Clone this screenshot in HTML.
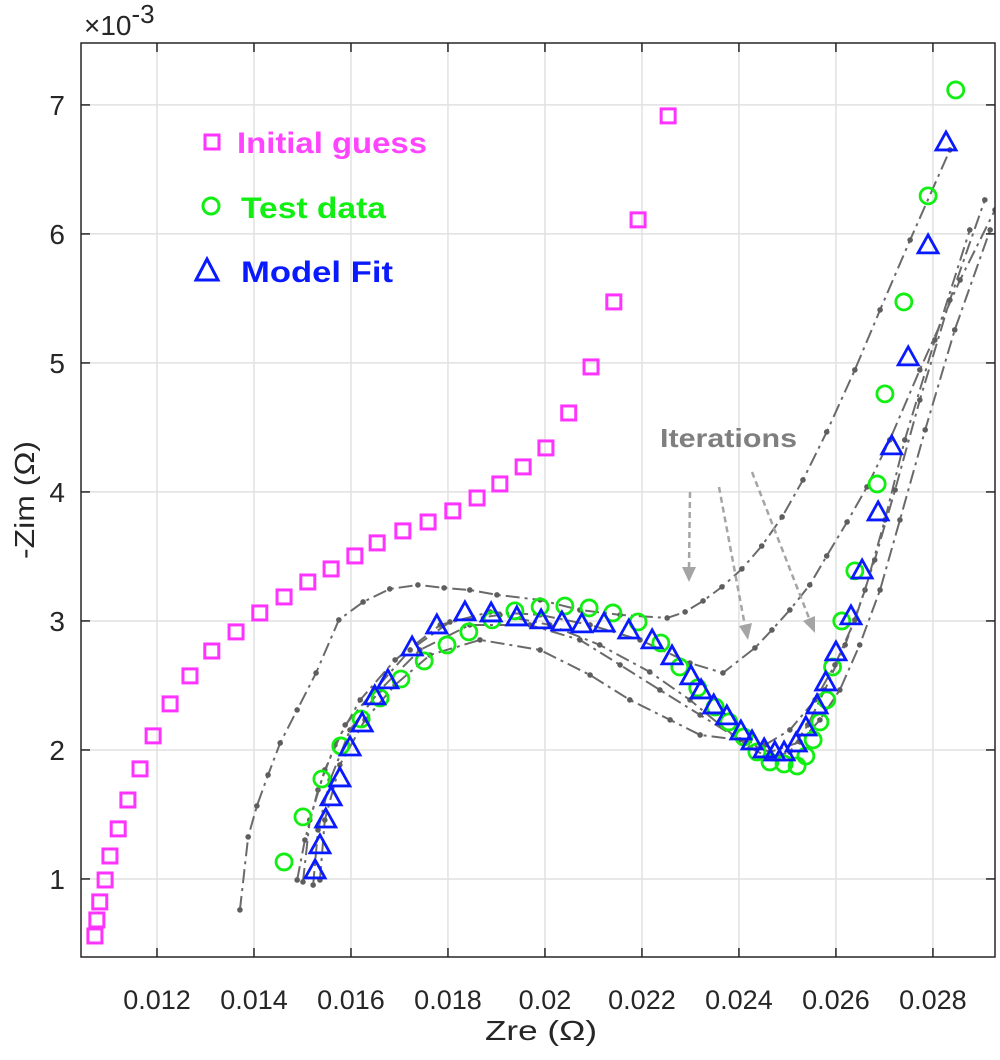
<!DOCTYPE html>
<html><head><meta charset="utf-8"><style>
html,body{margin:0;padding:0;background:#fff;}
svg{display:block;font-family:"Liberation Sans",sans-serif;}
</style></head><body>
<svg id="chart" width="1000" height="1060" viewBox="0 0 1000 1060">
<g id="grid"></g>
<g id="iters"></g>
<g id="series"></g>
<g id="axes"></g>
<g>
  <text x="660" y="447" font-size="26" font-weight="bold" fill="#7f7f7f" textLength="137" lengthAdjust="spacingAndGlyphs">Iterations</text>
  <g stroke="#a5a5a5" stroke-width="2.5" stroke-dasharray="6 4" fill="none">
    <line x1="690" y1="492" x2="689" y2="568"/>
    <line x1="719" y1="487" x2="745" y2="626"/>
    <line x1="752" y1="472" x2="809" y2="618"/>
  </g>
  <g fill="#a5a5a5">
    <polygon points="682,567 696,567 689,582"/>
    <polygon points="739,626 752,623 748,640"/>
    <polygon points="803,621 815,616 815,633"/>
  </g>
</g>
<g>
  <g>
    <rect x="205" y="135" width="14" height="14" fill="none" stroke="#ff33ff" stroke-width="3"/>
    <text x="237" y="153" font-size="30" font-weight="bold" fill="#ff44ff" textLength="190" lengthAdjust="spacingAndGlyphs">Initial guess</text>
  </g>
  <g>
    <circle cx="211" cy="206" r="8" fill="none" stroke="#11ee11" stroke-width="3"/>
    <text x="241" y="218" font-size="30" font-weight="bold" fill="#11ee11" textLength="145" lengthAdjust="spacingAndGlyphs">Test data</text>
  </g>
  <g>
    <polygon points="207,259 196,280 218,280" fill="none" stroke="#0a1aff" stroke-width="3"/>
    <text x="241" y="282" font-size="30" font-weight="bold" fill="#0a1aff" textLength="152" lengthAdjust="spacingAndGlyphs">Model Fit</text>
  </g>
</g>
</svg>
<script>
const xTicks=[0.012,0.014,0.016,0.018,0.02,0.022,0.024,0.026,0.028];
const xTickLabels=["0.012","0.014","0.016","0.018","0.02","0.022","0.024","0.026","0.028"];
const yTicks=[1,2,3,4,5,6,7];
const yTickLabels=["1","2","3","4","5","6","7"];
const guessX=[0.01072,0.01076,0.01082,0.01093,0.01103,0.01120,0.01140,0.01165,0.01192,0.01227,0.01268,0.01313,0.01363,0.01412,0.01462,0.01511,0.01559,0.01608,0.01654,0.01707,0.01759,0.01810,0.01860,0.01907,0.01955,0.02002,0.02049,0.02095,0.02142,0.02192,0.02254];
const guessY=[0.558,0.682,0.822,0.992,1.178,1.388,1.612,1.853,2.109,2.357,2.574,2.767,2.915,3.062,3.186,3.302,3.403,3.504,3.605,3.698,3.767,3.853,3.953,4.062,4.194,4.341,4.612,4.969,5.473,6.109,6.915];
const testX=[0.01462,0.01501,0.01540,0.01579,0.01621,0.01660,0.01703,0.01751,0.01798,0.01843,0.01891,0.01938,0.01990,0.02041,0.02091,0.02140,0.02192,0.02239,0.02278,0.02315,0.02351,0.02379,0.02410,0.02437,0.02464,0.02493,0.02520,0.02538,0.02553,0.02567,0.02581,0.02593,0.02612,0.02639,0.02685,0.02701,0.02740,0.02790,0.02847];
const testY=[1.132,1.481,1.775,2.031,2.240,2.403,2.550,2.690,2.814,2.915,3.008,3.078,3.109,3.116,3.101,3.062,2.992,2.829,2.643,2.481,2.333,2.217,2.101,1.984,1.907,1.891,1.876,1.953,2.078,2.217,2.388,2.643,3.000,3.388,4.062,4.760,5.473,6.295,7.116];
const fitX=[0.01526,0.01536,0.01548,0.01559,0.01577,0.01598,0.01623,0.01649,0.01676,0.01726,0.01777,0.01835,0.01889,0.01942,0.01992,0.02035,0.02076,0.02122,0.02173,0.02221,0.02262,0.02301,0.02322,0.02348,0.02375,0.02404,0.02427,0.02452,0.02474,0.02493,0.02518,0.02538,0.02561,0.02579,0.02600,0.02631,0.02654,0.02687,0.02715,0.02749,0.02790,0.02827];
const fitY=[1.070,1.264,1.465,1.636,1.783,2.023,2.209,2.419,2.543,2.798,2.969,3.070,3.062,3.031,3.008,2.992,2.977,2.984,2.930,2.853,2.729,2.574,2.465,2.349,2.264,2.147,2.070,2.008,1.984,1.984,2.054,2.178,2.349,2.527,2.760,3.039,3.395,3.845,4.357,5.047,5.915,6.713];
const iterAX=[0.01371,0.01388,0.01406,0.01429,0.01454,0.01489,0.01528,0.01575,0.01625,0.01680,0.01738,0.01792,0.01845,0.01901,0.01990,0.02072,0.02155,0.02252,0.02289,0.02326,0.02365,0.02406,0.02447,0.02489,0.02532,0.02581,0.02639,0.02691,0.02753,0.02835];
const iterAY=[0.760,1.326,1.566,1.806,2.054,2.310,2.597,3.008,3.147,3.248,3.279,3.256,3.240,3.202,3.163,3.085,3.047,3.023,3.070,3.155,3.264,3.403,3.581,3.806,4.093,4.465,4.946,5.411,5.953,6.651];
const iterBX=[0.01489,0.01505,0.01532,0.01567,0.01619,0.01691,0.01784,0.01887,0.01990,0.02093,0.02196,0.02299,0.02367,0.02433,0.02468,0.02505,0.02546,0.02581,0.02623,0.02664,0.02711,0.02773,0.02856,0.02928];
const iterBY=[0.992,1.302,1.690,2.039,2.388,2.698,2.969,3.070,3.047,2.969,2.853,2.674,2.597,2.791,2.930,3.085,3.279,3.504,3.767,4.039,4.403,4.946,5.643,6.186];
const iterCX=[0.01501,0.01515,0.01546,0.01588,0.01649,0.01722,0.01804,0.01907,0.02010,0.02113,0.02216,0.02299,0.02361,0.02423,0.02464,0.02505,0.02542,0.02577,0.02619,0.02660,0.02701,0.02742,0.02804,0.02876];
const iterCY=[0.977,1.457,1.845,2.194,2.465,2.775,2.992,3.047,2.969,2.814,2.605,2.388,2.194,2.016,1.938,1.984,2.194,2.465,2.814,3.240,3.783,4.403,5.178,6.031];
const iterDX=[0.01522,0.01532,0.01557,0.01598,0.01660,0.01742,0.01845,0.01969,0.02072,0.02155,0.02237,0.02320,0.02402,0.02464,0.02526,0.02567,0.02608,0.02649,0.02691,0.02732,0.02784,0.02845,0.02918];
const iterDY=[0.953,1.380,1.767,2.155,2.465,2.775,2.969,2.969,2.853,2.659,2.465,2.271,2.078,1.984,2.062,2.233,2.465,2.814,3.240,3.783,4.481,5.256,6.031];
const iterEX=[0.01536,0.01546,0.01577,0.01629,0.01691,0.01763,0.01866,0.01990,0.02093,0.02175,0.02258,0.02320,0.02402,0.02454,0.02505,0.02557,0.02598,0.02639,0.02680,0.02722,0.02773,0.02835,0.02907];
const iterEY=[0.992,1.457,1.884,2.233,2.504,2.736,2.853,2.775,2.581,2.388,2.233,2.116,2.078,2.039,2.155,2.388,2.659,3.008,3.473,4.016,4.713,5.488,6.264];

const L=81,R=995,T=43,B=957;
const X0=0.010433,X1=0.029280,Y0=0.395,Y1=7.48;
function sx(v){return L+(v-X0)/(X1-X0)*(R-L);}
function sy(v){return B-(v-Y0)/(Y1-Y0)*(B-T);}
const NS="http://www.w3.org/2000/svg";
function mk(tag,attrs,parent){const e=document.createElementNS(NS,tag);for(const k in attrs)e.setAttribute(k,attrs[k]);parent.appendChild(e);return e;}
const grid=document.getElementById('grid'),axes=document.getElementById('axes'),series=document.getElementById('series'),iters=document.getElementById('iters');

xTicks.forEach((v,i)=>{
  const x=sx(v);
  const g=mk('line',{x1:x,x2:x,y1:T,y2:B,stroke:'#e1e1e1','stroke-width':1.5},grid);
  
  
  const t1=mk('line',{x1:x,x2:x,y1:B,y2:B-9,stroke:'#262626','stroke-width':1.5},axes);
  
  
  const t2=mk('line',{x1:x,x2:x,y1:T,y2:T+9,stroke:'#262626','stroke-width':1.5},axes);
  
  
  const lb=mk('text',{x:x,y:B+52,'text-anchor':'middle','font-size':27,fill:'#262626'},axes);
  lb.textContent=xTickLabels[i];
  
  
});
yTicks.forEach((v,i)=>{
  const y=sy(v);
  const g=mk('line',{x1:L,x2:R,y1:y,y2:y,stroke:'#e1e1e1','stroke-width':1.5},grid);
  
  
  const t1=mk('line',{x1:L,x2:L+9,y1:y,y2:y,stroke:'#262626','stroke-width':1.5},axes);
  
  
  const t2=mk('line',{x1:R,x2:R-9,y1:y,y2:y,stroke:'#262626','stroke-width':1.5},axes);
  
  
  const lb=mk('text',{x:L-16,y:y+10,'text-anchor':'end','font-size':28,fill:'#262626'},axes);
  lb.textContent=yTickLabels[i];
  
  
});
const box=mk('rect',{x:L,y:T,width:R-L,height:B-T,fill:'none',stroke:'#262626','stroke-width':1.5},axes);


const ex=mk('text',{x:84,y:35,'font-size':28,fill:'#262626'},axes);
ex.innerHTML='×10<tspan dy="-12" font-size="26">-3</tspan>';


const xl=mk('text',{x:541,y:1040,'text-anchor':'middle','font-size':28,fill:'#262626',textLength:112,lengthAdjust:'spacingAndGlyphs'},axes);
xl.textContent='Zre (Ω)';


const yl=mk('text',{x:0,y:0,'text-anchor':'middle','font-size':28,fill:'#262626',transform:'translate(34,500) rotate(-90)',textLength:118,lengthAdjust:'spacingAndGlyphs'},axes);
yl.textContent='-Zim (Ω)';



const defs=mk('defs',{},document.getElementById('chart'));
const cp=mk('clipPath',{id:'clip'},defs);
mk('rect',{x:L,y:T,width:R-L,height:B-T},cp);
iters.setAttribute('clip-path','url(#clip)');

[[iterAX,iterAY],[iterBX,iterBY],[iterCX,iterCY],[iterDX,iterDY],[iterEX,iterEY]].forEach((c,k)=>{
  const pts=c[0].map((v,i)=>sx(v)+','+sy(c[1][i])).join(' ');
  const pl=mk('polyline',{points:pts,fill:'none',stroke:'#6a6a6a','stroke-width':2,'stroke-dasharray':'14 5 3 5'},iters);
  
  
  c[0].forEach((v,i)=>{
    const d=mk('circle',{cx:sx(v),cy:sy(c[1][i]),r:2.8,fill:'#5e5e5e'},iters);
    
    
  });
});

guessX.forEach((v,i)=>{
  const x=sx(v),y=sy(guessY[i]);
  const r=mk('rect',{x:x-7,y:y-7,width:14,height:14,fill:'none',stroke:'#ff33ff','stroke-width':3},series);
  
  
});
testX.forEach((v,i)=>{
  const c=mk('circle',{cx:sx(v),cy:sy(testY[i]),r:8,fill:'none',stroke:'#11ee11','stroke-width':2.8},series);
  
  
});
fitX.forEach((v,i)=>{
  const x=sx(v),y=sy(fitY[i]);
  const p=mk('polygon',{points:`${x},${y-10} ${x-10},${y+8} ${x+10},${y+8}`,fill:'none',stroke:'#0a1aff','stroke-width':2.8},series);
  
  
});
</script>
</body></html>
